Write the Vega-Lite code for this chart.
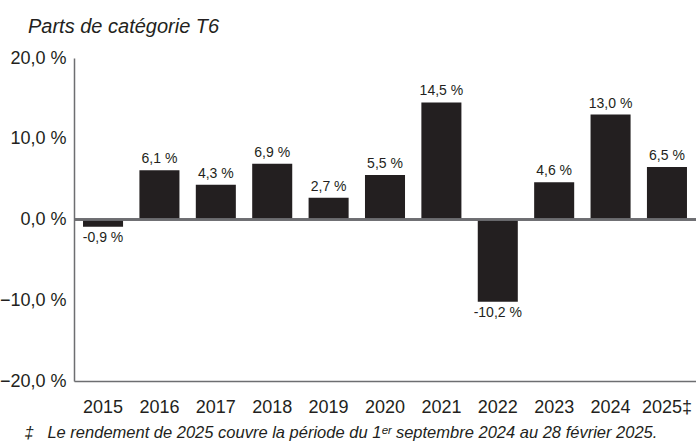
{
  "$schema": "https://vega.github.io/schema/vega-lite/v6.json",
  "width": 622,
  "height": 323,
  "autosize": "none",
  "padding": {"left": 74, "top": 58, "right": 0, "bottom": 64},
  "background": "white",
  "title": {
    "text": "Parts de catégorie T6",
    "anchor": "start",
    "frame": "group",
    "dx": -46,
    "offset": 12,
    "fontSize": 20,
    "fontStyle": "italic",
    "fontWeight": "normal",
    "font": "Liberation Sans",
    "color": "#231f20"
  },
  "data": {
    "values": [
      {"annee": "2015", "valeur": -0.9, "etiquette": "-0,9 %"},
      {"annee": "2016", "valeur": 6.1, "etiquette": "6,1 %"},
      {"annee": "2017", "valeur": 4.3, "etiquette": "4,3 %"},
      {"annee": "2018", "valeur": 6.9, "etiquette": "6,9 %"},
      {"annee": "2019", "valeur": 2.7, "etiquette": "2,7 %"},
      {"annee": "2020", "valeur": 5.5, "etiquette": "5,5 %"},
      {"annee": "2021", "valeur": 14.5, "etiquette": "14,5 %"},
      {"annee": "2022", "valeur": -10.2, "etiquette": "-10,2 %"},
      {"annee": "2023", "valeur": 4.6, "etiquette": "4,6 %"},
      {"annee": "2024", "valeur": 13.0, "etiquette": "13,0 %"},
      {"annee": "2025‡", "valeur": 6.5, "etiquette": "6,5 %"}
    ]
  },
  "encoding": {
    "x": {
      "field": "annee",
      "type": "nominal",
      "sort": null,
      "scale": {"paddingInner": 0.29, "paddingOuter": 0.16},
      "axis": {
        "title": "‡\u00a0\u00a0\u00a0Le rendement de 2025 couvre la période du 1ᵉʳ septembre 2024 au 28 février 2025.",
        "titleX": -50,
        "titleY": 56,
        "titleAlign": "left",
        "titleAnchor": null,
        "titleBaseline": "alphabetic",
        "titleFont": "Liberation Sans",
        "titleFontSize": 16.5,
        "titleFontStyle": "italic",
        "titleFontWeight": "normal",
        "titleColor": "#231f20",
        "labelAngle": 0,
        "labelFont": "Liberation Sans",
        "labelFontSize": 18,
        "labelColor": "#231f20",
        "labelPadding": 17,
        "ticks": false,
        "domainColor": "#6d6e71",
        "domainWidth": 1.5
      }
    },
    "y": {
      "field": "valeur",
      "type": "quantitative",
      "scale": {"domain": [-20, 20], "nice": false},
      "axis": {
        "title": null,
        "values": [-20, -10, 0, 10, 20],
        "labelExpr": "replace(format(datum.value, '.1f'), '.', ',') + ' %'",
        "labelFont": "Liberation Sans",
        "labelFontSize": 18,
        "labelColor": "#231f20",
        "labelPadding": 8,
        "ticks": false,
        "grid": false,
        "domainColor": "#6d6e71",
        "domainWidth": 1.5
      }
    }
  },
  "layer": [
    {"mark": {"type": "bar", "color": "#231f20"}},
    {
      "mark": {"type": "rule", "color": "#6d6e71", "strokeWidth": 1.5},
      "encoding": {"y": {"datum": 0}, "x": null}
    },
    {
      "transform": [{"filter": "datum.valeur >= 0"}],
      "mark": {"type": "text", "baseline": "bottom", "dy": -4, "fontSize": 14, "font": "Liberation Sans", "color": "#231f20"},
      "encoding": {"text": {"field": "etiquette"}}
    },
    {
      "transform": [{"filter": "datum.valeur < 0"}],
      "mark": {"type": "text", "baseline": "top", "dy": 4, "fontSize": 14, "font": "Liberation Sans", "color": "#231f20"},
      "encoding": {"text": {"field": "etiquette"}}
    }
  ],
  "config": {"view": {"stroke": null}}
}
